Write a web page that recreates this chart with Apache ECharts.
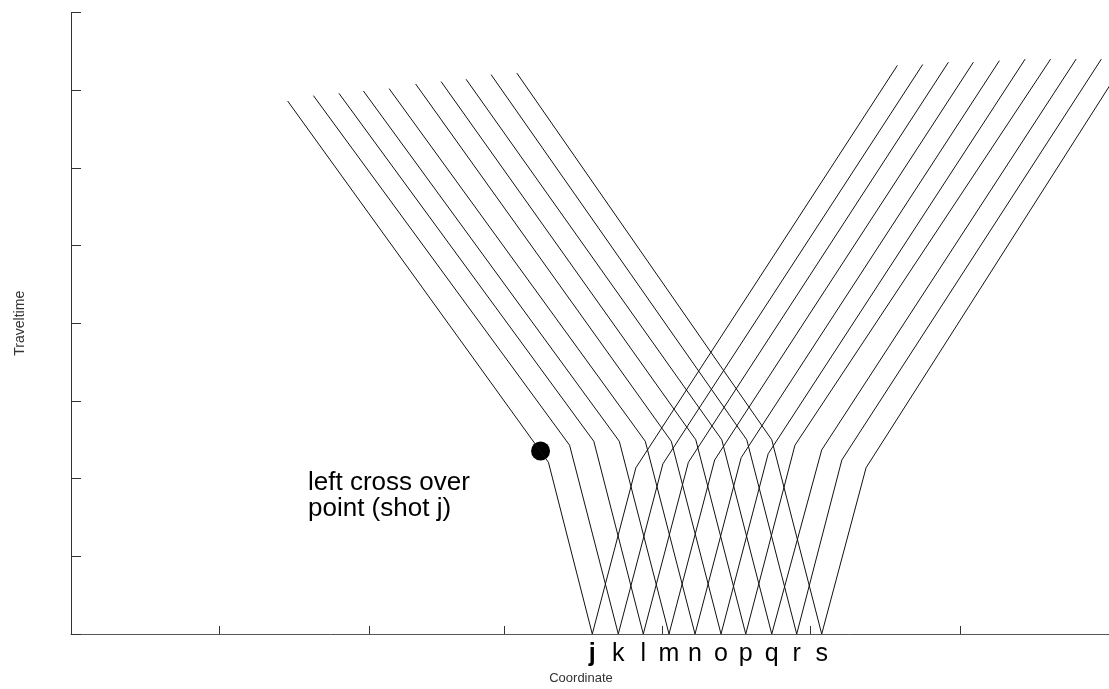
<!DOCTYPE html>
<html>
<head>
<meta charset="utf-8">
<script src="https://cdn.jsdelivr.net/npm/echarts@6/dist/echarts.min.js"></script>
<style>
  html, body { margin: 0; padding: 0; background: #fff; }
  #chart { width: 1109px; height: 689px; }
</style>
</head>
<body>
<div id="chart"></div>
<script>
// shot names and positions along the line (coordinate units)
const shotNames = ['j', 'k', 'l', 'm', 'n', 'o', 'p', 'q', 'r', 's']
const shotX = [204.5, 214.7, 224.5, 234.6, 244.8, 255.0, 264.7, 274.9, 284.7, 294.5]

// left branch: crossover (kink) and far end
const leftKinkX = [187.3, 195.6, 205.1, 215.1, 225.3, 235.5, 245.1, 255.3, 265.1, 274.9]
const leftKinkT = [2.21, 2.43, 2.48, 2.48, 2.48, 2.48, 2.50, 2.50, 2.50, 2.50]
const leftEndX = [85.0, 95.1, 105.1, 114.7, 124.8, 135.2, 145.2, 155.0, 164.8, 174.9]
const leftEndT = [6.86, 6.93, 6.96, 6.99, 7.02, 7.08, 7.11, 7.14, 7.20, 7.22]

// right branch: crossover (kink) and far end
const rightKinkX = [221.6, 232.2, 242.2, 252.5, 262.9, 273.5, 284.0, 294.5, 302.4, 311.9]
const rightKinkT = [2.14, 2.19, 2.21, 2.24, 2.27, 2.32, 2.43, 2.37, 2.24, 2.14]
const rightEndX = [324.2, 334.1, 344.2, 354.0, 364.2, 374.3, 384.3, 394.3, 404.2, 414.3]
const rightEndT = [7.32, 7.33, 7.36, 7.36, 7.38, 7.40, 7.40, 7.40, 7.40, 7.41]

// left cross over point of shot j
const crossOver = [184.2, 2.355]

// x axis tick positions
const xTicks = [58, 117, 170, 232, 290, 349]

const font = "'Liberation Sans', Arial, Helvetica, sans-serif"

var chart = echarts.init(document.getElementById('chart'), null, {renderer: 'canvas'})

var series = []
for (var i = 0; i < shotX.length; i++) {
    series.push({
        name: shotNames[i],
        type: 'line',
        showSymbol: false,
        silent: true,
        clip: true,
        lineStyle: {color: '#111', width: 1},
        data: [
            [leftEndX[i], leftEndT[i]],
            [leftKinkX[i], leftKinkT[i]],
            [shotX[i], 0],
            [rightKinkX[i], rightKinkT[i]],
            [rightEndX[i], rightEndT[i]]
        ]
    })
}
series.push({
    type: 'scatter',
    symbolSize: 19,
    itemStyle: {color: '#000', opacity: 1},
    data: [crossOver]
})

var option = {
    animation: false,
    grid: {
        left: 71,
        top: 12.5,
        right: 0,
        bottom: 55,
        containLabel: false,
        outerBoundsMode: 'none'
    },
    xAxis: {
        type: 'value',
        min: 0,
        max: 407.2,
        name: 'Coordinate',
        nameLocation: 'middle',
        nameGap: 36,
        nameTextStyle: {fontFamily: font, fontSize: 13, color: '#333', padding: [0, 18, 0, 0]},
        axisLine: {lineStyle: {color: '#555', width: 1}},
        axisTick: {inside: true, length: 8, customValues: xTicks, lineStyle: {color: '#333'}},
        splitLine: {show: false},
        axisLabel: {
            customValues: shotX,
            margin: 8,
            fontFamily: font,
            fontSize: 25,
            color: '#000',
            formatter: function (v) {
                var i = shotX.indexOf(v)
                return i === 0 ? '{b|' + shotNames[i] + '}' : shotNames[i]
            },
            rich: {b: {fontWeight: 'bold', fontSize: 25, fontFamily: font}}
        }
    },
    yAxis: {
        type: 'value',
        min: 0,
        max: 8,
        interval: 1,
        name: 'Traveltime',
        nameLocation: 'middle',
        nameGap: 44,
        nameTextStyle: {fontFamily: font, fontSize: 14, color: '#333'},
        axisLine: {show: true, lineStyle: {color: '#333', width: 1}},
        axisTick: {inside: true, length: 10, lineStyle: {color: '#333'}},
        axisLabel: {show: false},
        splitLine: {show: false}
    },
    graphic: [{
        type: 'text',
        left: 308,
        top: 470,
        style: {
            text: 'left cross over\npoint (shot j)',
            font: '26px ' + font,
            lineHeight: 26,
            fill: '#000'
        }
    }],
    series: series
}

chart.setOption(option)
</script>
</body>
</html>
